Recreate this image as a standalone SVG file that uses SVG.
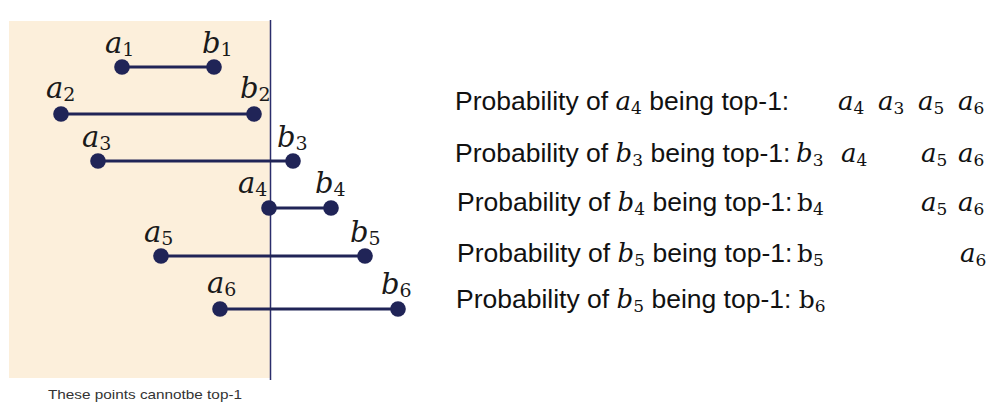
<svg xmlns="http://www.w3.org/2000/svg" width="995" height="414" viewBox="0 0 995 414">
<style>
.lab{font-family:"DejaVu Serif",serif;font-style:italic;font-size:29px;fill:#1a1a1a}
.ls{font-style:normal;font-size:19px}
.txt{font-family:"Liberation Sans",Arial,sans-serif;font-size:26.5px;fill:#111}
.mi{font-family:"DejaVu Serif",serif;font-style:italic;font-size:26px}
.ms{font-family:"DejaVu Serif",serif;font-style:normal;font-size:17px}
.m{font-family:"DejaVu Serif",serif;font-style:italic;font-size:26px;fill:#111}
.mu{font-family:"DejaVu Serif",serif;font-style:normal;font-size:25px;fill:#111}
.s{font-style:normal;font-size:17px}
.dot{fill:#202457}
.seg{stroke:#202457;stroke-width:3.2}
.cap{font-family:"Liberation Sans",Arial,sans-serif;font-size:13px;fill:#333}
</style>
<rect width="995" height="414" fill="#fff"/>
<rect id="region" x="9" y="21" width="261" height="357" fill="#fcefdb"/>
<line x1="270.5" y1="20" x2="270.5" y2="380" stroke="#2b2d6b" stroke-width="1.5"/>
<g id="connectors">
<line class="seg" x1="122" y1="67" x2="214" y2="67"/>
<line class="seg" x1="61" y1="114" x2="254" y2="114"/>
<line class="seg" x1="98" y1="161" x2="293" y2="161"/>
<line class="seg" x1="269" y1="208" x2="331" y2="208"/>
<line class="seg" x1="161" y1="256" x2="365" y2="256"/>
<line class="seg" x1="220" y1="309" x2="398" y2="309"/>
</g>
<g id="a1"><circle class="dot" cx="122" cy="67" r="7.8"/><text class="lab" x="105" y="53">a<tspan class="ls" dy="3">1</tspan></text></g>
<g id="b1"><circle class="dot" cx="214" cy="67" r="7.8"/><text class="lab" x="202" y="53">b<tspan class="ls" dy="3">1</tspan></text></g>
<g id="a2"><circle class="dot" cx="61" cy="114" r="7.8"/><text class="lab" x="46" y="98">a<tspan class="ls" dy="3">2</tspan></text></g>
<g id="b2"><circle class="dot" cx="254" cy="114" r="7.8"/><text class="lab" x="240" y="98">b<tspan class="ls" dy="3">2</tspan></text></g>
<g id="a3"><circle class="dot" cx="98" cy="161" r="7.8"/><text class="lab" x="82" y="147">a<tspan class="ls" dy="3">3</tspan></text></g>
<g id="b3"><circle class="dot" cx="293" cy="161" r="7.8"/><text class="lab" x="277" y="147">b<tspan class="ls" dy="3">3</tspan></text></g>
<g id="a4"><circle class="dot" cx="269" cy="208" r="7.8"/><text class="lab" x="238" y="193">a<tspan class="ls" dy="3">4</tspan></text></g>
<g id="b4"><circle class="dot" cx="331" cy="208" r="7.8"/><text class="lab" x="315" y="193">b<tspan class="ls" dy="3">4</tspan></text></g>
<g id="a5"><circle class="dot" cx="161" cy="256" r="7.8"/><text class="lab" x="144" y="242">a<tspan class="ls" dy="3">5</tspan></text></g>
<g id="b5"><circle class="dot" cx="365" cy="256" r="7.8"/><text class="lab" x="350" y="242">b<tspan class="ls" dy="3">5</tspan></text></g>
<g id="a6"><circle class="dot" cx="220" cy="309" r="7.8"/><text class="lab" x="207" y="293">a<tspan class="ls" dy="3">6</tspan></text></g>
<g id="b6"><circle class="dot" cx="398" cy="309" r="7.8"/><text class="lab" x="381" y="294">b<tspan class="ls" dy="3">6</tspan></text></g>
<text class="cap" x="48" y="399" textLength="194" lengthAdjust="spacingAndGlyphs">These points cannotbe top-1</text>
<g id="row1">
<text class="txt" x="455" y="110">Probability of <tspan class="mi">a</tspan><tspan class="ms" dy="4">4</tspan><tspan dy="-4"> being top-1:</tspan></text>
<text class="m" x="838" y="110">a<tspan class="s" dy="4">4</tspan></text>
<text class="m" x="878" y="110">a<tspan class="s" dy="4">3</tspan></text>
<text class="m" x="918" y="110">a<tspan class="s" dy="4">5</tspan></text>
<text class="m" x="958" y="110">a<tspan class="s" dy="4">6</tspan></text>
</g>
<g id="row2">
<text class="txt" x="455" y="162">Probability of <tspan class="mi">b</tspan><tspan class="ms" dy="4">3</tspan><tspan dy="-4"> being top-1:</tspan></text>
<text class="m" x="796" y="162">b<tspan class="s" dy="4">3</tspan></text>
<text class="m" x="841" y="162">a<tspan class="s" dy="4">4</tspan></text>
<text class="m" x="921" y="162">a<tspan class="s" dy="4">5</tspan></text>
<text class="m" x="958" y="162">a<tspan class="s" dy="4">6</tspan></text>
</g>
<g id="row3">
<text class="txt" x="457" y="211">Probability of <tspan class="mi">b</tspan><tspan class="ms" dy="4">4</tspan><tspan dy="-4"> being top-1:</tspan></text>
<text class="mu" x="797" y="211">b<tspan class="s" dy="4">4</tspan></text>
<text class="m" x="921" y="211">a<tspan class="s" dy="4">5</tspan></text>
<text class="m" x="958" y="211">a<tspan class="s" dy="4">6</tspan></text>
</g>
<g id="row4">
<text class="txt" x="457" y="262">Probability of <tspan class="mi">b</tspan><tspan class="ms" dy="4">5</tspan><tspan dy="-4"> being top-1:</tspan></text>
<text class="mu" x="797" y="262">b<tspan class="s" dy="4">5</tspan></text>
<text class="m" x="960" y="262">a<tspan class="s" dy="4">6</tspan></text>
</g>
<g id="row5">
<text class="txt" x="456" y="308">Probability of <tspan class="mi">b</tspan><tspan class="ms" dy="4">5</tspan><tspan dy="-4"> being top-1: </tspan><tspan class="mu">b</tspan><tspan class="ms" dy="4">6</tspan></text>
</g>
</svg>
